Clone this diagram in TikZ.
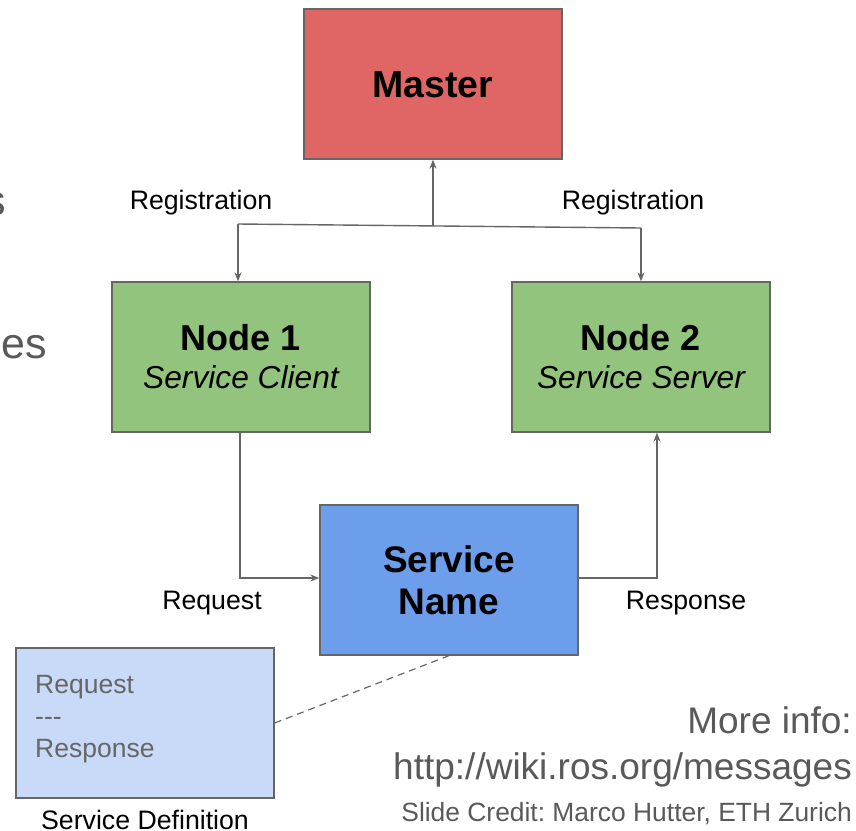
\documentclass[tikz,border=0pt]{standalone}
\usepackage{fontspec}
\setmainfont{Liberation Sans}
\usetikzlibrary{arrows.meta,calc}
\definecolor{masterred}{HTML}{E06666}
\definecolor{nodegreen}{HTML}{93C47D}
\definecolor{servblue}{HTML}{6D9EEB}
\definecolor{defblue}{HTML}{C9DAF8}
\definecolor{edgegray}{HTML}{666666}
\definecolor{textgray}{HTML}{595959}
\frenchspacing
\tikzset{
  box/.style={draw=edgegray, line width=1.3pt, minimum width=258pt, minimum height=150pt, inner sep=0pt, align=center},
  conn/.style={draw=edgegray, line width=1.4pt},
  arr/.style={conn, -{Stealth[length=9pt,width=7pt]}},
  lbl/.style={font=\fontsize{26.7}{30}\selectfont, inner sep=0pt},
  twoline/.style={font=\fontsize{36}{38}\selectfont},
}
\begin{document}
\begin{tikzpicture}[x=1pt,y=-1pt]
\useasboundingbox (0,0) rectangle (856,830);
\fill[white] (0,0) rectangle (856,830);

% left fragments of slide text
\node[anchor=base east, inner sep=0pt, text=textgray, font=\fontsize{43}{48}\selectfont] (fragA) at (6,215) {s};
\node[anchor=base east, inner sep=0pt, text=textgray, font=\fontsize{43}{48}\selectfont] (fragB) at (47,358) {es};

% boxes
\node[box, fill=masterred, font=\fontsize{37.5}{40}\bfseries\selectfont, text depth=0pt] (master) at (433,84) {\raisebox{-2pt}{Master}};
\node[box, fill=nodegreen, twoline] (node1) at (241,357) {\bfseries Node 1\\\fontsize{31.7}{38}\itshape\selectfont Service Client};
\node[box, fill=nodegreen, twoline] (node2) at (641,357) {\bfseries Node 2\\\fontsize{31.7}{38}\itshape\selectfont Service Server};
\node[box, fill=servblue, font=\fontsize{37}{43}\bfseries\selectfont] (serv) at (449,580) {\raisebox{-1pt}{Service}\\Name};
\node[box, fill=defblue] (sdef) at (145,723) {};
\node[anchor=north west, inner sep=0pt, align=left, text=edgegray, font=\fontsize{26.5}{32}\selectfont] (sdtext) at (35,675) {Request\\-{}-{}-\\Response};
\node[lbl, anchor=base] (sdcap) at (145,829) {Service Definition};

% registration connectors
\coordinate (jl) at (238,224);
\coordinate (j) at (433,226);
\coordinate (jr) at (641,228);
\draw[conn] (jl) -- (jr);
\draw[arr] (j) -- (master.south);
\draw[arr] (jl) -- (jl |- node1.north);
\draw[arr] (jr) -- (jr |- node2.north);
\node[lbl] (regl) at (201,203) {Registration};
\node[lbl] (regr) at (633,203) {Registration};

% request / response
\coordinate (rq) at (240,578);
\draw[arr] (node1.south -| rq) -- (rq) -- (rq -| serv.west);
\coordinate (rs) at (657,578);
\draw[arr] (serv.east |- rs) -- (rs) -- (rs |- node2.south);
\node[lbl] (req) at (212,603) {Request};
\node[lbl] (resp) at (686,603) {Response};

% dashed link
\draw[conn, dashed, line width=1.2pt, dash pattern=on 7pt off 5pt] (sdef.east) -- (serv.south);

% footer
\node[anchor=base east, inner sep=0pt, text=textgray, font=\fontsize{37}{40}\selectfont] (more) at (852,733) {More info:};
\node[anchor=base east, inner sep=0pt, text=textgray, font=\fontsize{37}{40}\selectfont] (url) at (852,779) {http://wiki.ros.org/messages};
\node[anchor=base east, inner sep=0pt, text=textgray, font=\fontsize{26.4}{30}\selectfont] (credit) at (852,821) {Slide Credit: Marco Hutter, ETH Zurich};
\end{tikzpicture}
\end{document}
